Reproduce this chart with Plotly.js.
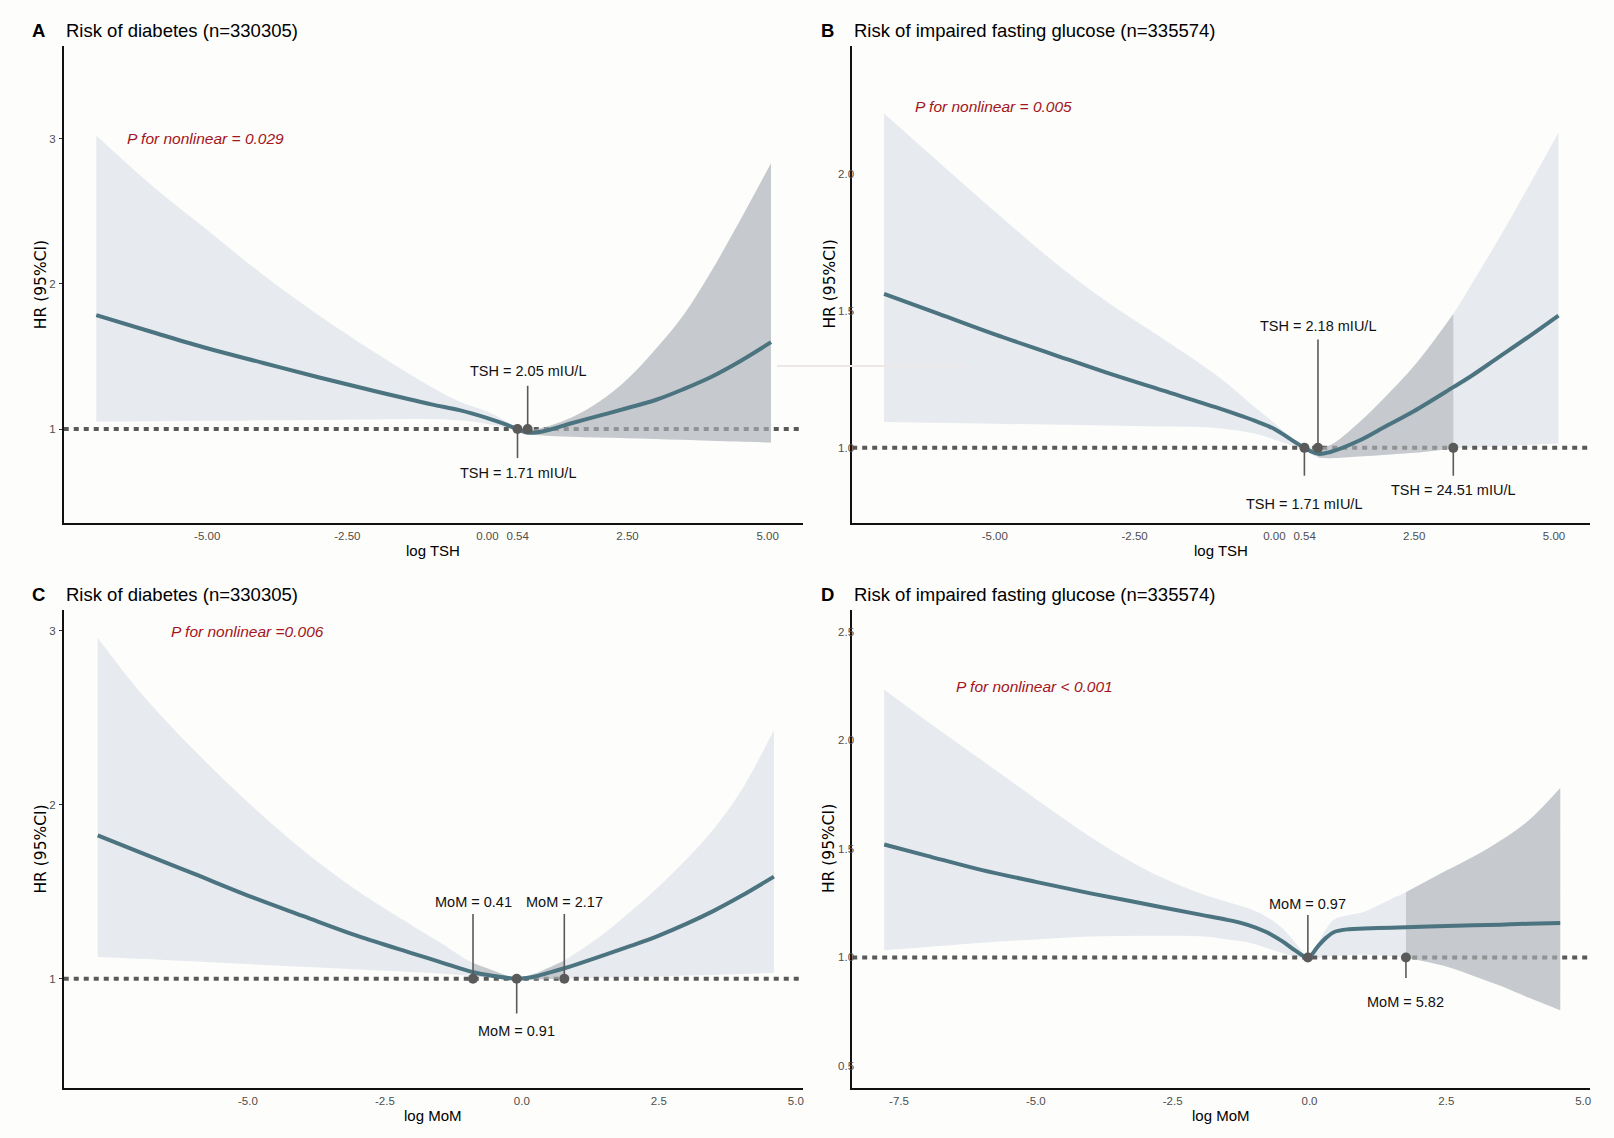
<!DOCTYPE html>
<html>
<head>
<meta charset="utf-8">
<script src="https://cdn.plot.ly/plotly-3.0.1.min.js"></script>
<style>html,body{margin:0;padding:0;background:#fdfdfb;}#chart{width:1614px;height:1138px;}</style>
</head>
<body>
<div id="chart"></div>
<script>
// ---------------- DATA ----------------
// Panel A: diabetes vs log TSH
const xA  = [-6.98, -6, -5, -4, -3, -2, -1, -0.5, 0, 0.3, 0.536, 0.718, 1.0, 1.5, 2.0, 2.5, 3.0, 3.5, 4.0, 4.5, 5.06];
const hrA = [1.784, 1.67, 1.556, 1.455, 1.355, 1.26, 1.17, 1.13, 1.075, 1.035, 1.0, 0.975, 0.985, 1.04, 1.092, 1.145, 1.20, 1.275, 1.36, 1.465, 1.598];
const loA = [1.052, 1.054, 1.057, 1.06, 1.063, 1.066, 1.068, 1.06, 1.035, 1.012, 0.99, 0.966, 0.955, 0.947, 0.942, 0.937, 0.932, 0.926, 0.92, 0.914, 0.907];
const upA = [3.02, 2.68, 2.37, 2.06, 1.78, 1.525, 1.29, 1.19, 1.12, 1.06, 1.01, 0.99, 1.01, 1.08, 1.19, 1.345, 1.55, 1.785, 2.09, 2.43, 2.83];

// Panel B: impaired fasting glucose vs log TSH
const xB  = [-6.98, -6, -5, -4, -3, -2, -1, -0.3, 0, 0.3, 0.536, 0.779, 1.0, 1.5, 2.0, 2.5, 3.199, 3.5, 4.0, 4.5, 5.08];
const hrB = [1.563, 1.49, 1.415, 1.345, 1.275, 1.21, 1.145, 1.095, 1.069, 1.03, 1.0, 0.978, 0.985, 1.025, 1.08, 1.135, 1.222, 1.26, 1.33, 1.40, 1.484];
const loB = [1.095, 1.092, 1.088, 1.085, 1.082, 1.078, 1.072, 1.05, 1.03, 1.01, 0.99, 0.965, 0.962, 0.968, 0.975, 0.982, 0.998, 1.0, 1.005, 1.01, 1.016];
const upB = [2.223, 2.045, 1.865, 1.69, 1.535, 1.40, 1.26, 1.14, 1.09, 1.04, 1.012, 1.0, 1.01, 1.09, 1.19, 1.30, 1.49, 1.59, 1.76, 1.94, 2.153];

// Panel C: diabetes vs log MoM
const xC  = [-7.74, -7, -6, -5, -4, -3, -2, -1.5, -0.89, -0.5, -0.094, 0.2, 0.5, 0.775, 1.0, 1.5, 2.0, 2.5, 3.0, 3.5, 4.0, 4.6];
const hrC = [1.824, 1.73, 1.605, 1.478, 1.361, 1.246, 1.146, 1.097, 1.037, 1.015, 1.0, 1.01, 1.035, 1.06, 1.082, 1.135, 1.19, 1.248, 1.315, 1.39, 1.475, 1.587];
const loC = [1.125, 1.115, 1.10, 1.084, 1.068, 1.053, 1.039, 1.03, 1.015, 1.006, 0.995, 0.995, 0.998, 1.0, 1.002, 1.005, 1.01, 1.013, 1.018, 1.022, 1.027, 1.034];
const upC = [2.96, 2.66, 2.32, 2.015, 1.74, 1.505, 1.305, 1.21, 1.09, 1.045, 1.005, 1.025, 1.065, 1.105, 1.15, 1.26, 1.39, 1.53, 1.685, 1.86, 2.08, 2.43];

// Panel D: impaired fasting glucose vs log MoM
const xD  = [-7.77, -7, -6, -5, -4, -3, -2, -1.5, -1.13, -0.8, -0.5, -0.25, -0.03, 0.15, 0.3, 0.45, 0.72, 1.0, 1.5, 1.761, 2.5, 3.0, 3.5, 4.0, 4.58];
const hrD = [1.52, 1.469, 1.403, 1.348, 1.295, 1.246, 1.197, 1.173, 1.15, 1.118, 1.075, 1.03, 1.0, 1.05, 1.09, 1.117, 1.13, 1.133, 1.137, 1.139, 1.145, 1.148, 1.151, 1.155, 1.158];
const loD = [1.033, 1.048, 1.068, 1.083, 1.096, 1.10, 1.097, 1.083, 1.07, 1.045, 1.02, 1.003, 0.995, 0.997, 1.002, 1.006, 1.01, 1.012, 1.005, 0.998, 0.958, 0.915, 0.868, 0.815, 0.757];
const upD = [2.234, 2.09, 1.91, 1.73, 1.555, 1.405, 1.295, 1.255, 1.227, 1.19, 1.135, 1.064, 1.005, 1.065, 1.13, 1.175, 1.195, 1.21, 1.27, 1.30, 1.40, 1.465, 1.54, 1.63, 1.78];

// Cut-off values (original scale) and their labels
const cutValsA = [1.71, 2.05];  const cutLabelsA = ["TSH = 1.71 mIU/L", "TSH = 2.05 mIU/L"];
const cutValsB = [1.71, 2.18, 24.51]; const cutLabelsB = ["TSH = 1.71 mIU/L", "TSH = 2.18 mIU/L", "TSH = 24.51 mIU/L"];
const cutValsC = [0.41, 0.91, 2.17]; const cutLabelsC = ["MoM = 0.41", "MoM = 0.91", "MoM = 2.17"];
const cutValsD = [0.97, 5.82]; const cutLabelsD = ["MoM = 0.97", "MoM = 5.82"];

const titles = ["Risk of diabetes (n=330305)", "Risk of impaired fasting glucose (n=335574)",
                "Risk of diabetes (n=330305)", "Risk of impaired fasting glucose (n=335574)"];
const letters = ["A", "B", "C", "D"];
const pTexts = ["P for nonlinear = 0.029", "P for nonlinear = 0.005", "P for nonlinear =0.006", "P for nonlinear < 0.001"];
const xTitles = ["log TSH", "log TSH", "log MoM", "log MoM"];
const yTitle = "HR (95%CI)";
const xTickValsTop = [-5, -2.5, 0, 0.54, 2.5, 5];
const xTickTextTop = ["-5.00", "-2.50", "0.00", "0.54", "2.50", "5.00"];
const xTickValsC = [-5, -2.5, 0, 2.5, 5];
const xTickTextC = ["-5.0", "-2.5", "0.0", "2.5", "5.0"];
const xTickValsD = [-7.5, -5, -2.5, 0, 2.5, 5];
const xTickTextD = ["-7.5", "-5.0", "-2.5", "0.0", "2.5", "5.0"];
const yTickValsA = [1, 2, 3]; const yTickTextA = ["1", "2", "3"];
const yTickValsB = [1.0, 1.5, 2.0]; const yTickTextB = ["1.0", "1.5", "2.0"];
const yTickValsC = [1, 2, 3]; const yTickTextC = ["1", "2", "3"];
const yTickValsD = [0.5, 1.0, 1.5, 2.0, 2.5]; const yTickTextD = ["0.5", "1.0", "1.5", "2.0", "2.5"];

// ---------------- STYLE / LAYOUT ----------------
const BG = "#fdfdfb";
const LIGHT = "#e7eaef";
const DARK = "rgba(178,180,184,0.62)";
const CURVE = "#4b7480";
const REF = "#595959";
const PT = "#5a5a5a";
const FONT = "Liberation Sans, Arial, sans-serif";
const SMOOTH = 1.0;

const panels = [
  {x:xA, hr:hrA, lo:loA, up:upA, cuts:cutValsA, labels:cutLabelsA,
   labelY:[0.695, 1.397], lineEnd:[0.80, 1.298], dark:[1, null],
   xr:[-7.56, 5.63], yr:[0.353, 3.637], pPos:[-6.47, 3.0],
   dom:{x:[0.0395, 0.4975], y:[0.5404, 0.9596]}, tv:xTickValsTop, tt:xTickTextTop, ytv:yTickValsA, ytt:yTickTextA, inside:false},
  {x:xB, hr:hrB, lo:loB, up:upB, cuts:cutValsB, labels:cutLabelsB,
   labelY:[0.796, 1.445, 0.845], lineEnd:[0.898, 1.396, 0.898], dark:[1, 2],
   xr:[-7.55, 5.64], yr:[0.725, 2.47], pPos:[-6.46, 2.249],
   dom:{x:[0.528, 0.985], y:[0.5404, 0.9596]}, tv:xTickValsTop, tt:xTickTextTop, ytv:yTickValsB, ytt:yTickTextB, inside:true},
  {x:xC, hr:hrC, lo:loC, up:upC, cuts:cutValsC, labels:cutLabelsC,
   labelY:[1.442, 0.699, 1.442], lineEnd:[1.372, 0.80, 1.372], dark:[0, 2],
   xr:[-8.36, 5.13], yr:[0.372, 3.12], pPos:[-6.44, 2.994],
   dom:{x:[0.0395, 0.4975], y:[0.044, 0.464]}, tv:xTickValsC, tt:xTickTextC, ytv:yTickValsC, ytt:yTickTextC, inside:false},
  {x:xD, hr:hrD, lo:loD, up:upD, cuts:cutValsD, labels:cutLabelsD,
   labelY:[1.245, 0.795], lineEnd:[1.195, 0.905], dark:[1, null],
   xr:[-8.355, 5.12], yr:[0.399, 2.6], pPos:[-6.5, 2.247],
   dom:{x:[0.528, 0.985], y:[0.044, 0.464]}, tv:xTickValsD, tt:xTickTextD, ytv:yTickValsD, ytt:yTickTextD, inside:true}
];

const data = [];
const annotations = [];
const layout = {
  width: 1614, height: 1138,
  margin: {l:0, r:0, t:0, b:0},
  paper_bgcolor: BG, plot_bgcolor: BG,
  showlegend: false,
  font: {family: FONT, color: "#000"},
  annotations: annotations,
  shapes: [
    {type:"line", xref:"paper", yref:"paper", x0:777/1614, x1:968/1614, y0:1-366/1138, y1:1-366/1138,
     line:{color:"#ede8e7", width:2}, layer:"above"}
  ]
};

panels.forEach((p, i) => {
  const n = i === 0 ? "" : String(i + 1);
  const xa = "x" + n, ya = "y" + n;
  const logCuts = p.cuts.map(v => Math.log(v));
  const noLine = {width:0, shape:"spline", smoothing:SMOOTH};

  // light CI band
  data.push({x:p.x, y:p.lo, xaxis:xa, yaxis:ya, type:"scatter", mode:"lines", line:noLine, hoverinfo:"skip"});
  data.push({x:p.x, y:p.up, xaxis:xa, yaxis:ya, type:"scatter", mode:"lines", fill:"tonexty",
             fillcolor:LIGHT, line:noLine, hoverinfo:"skip"});
  // reference line HR = 1
  data.push({x:[p.xr[0], p.xr[1]], y:[1, 1], xaxis:xa, yaxis:ya, type:"scatter", mode:"lines",
             line:{color:REF, width:4, dash:"5px,5px"}, hoverinfo:"skip"});
  // darker non-significant region
  const x0 = logCuts[p.dark[0]] - 0.01;
  const x1 = p.dark[1] === null ? Infinity : logCuts[p.dark[1]] + 0.01;
  const idx = p.x.map((v, k) => k).filter(k => p.x[k] >= x0 && p.x[k] <= x1);
  data.push({x:idx.map(k => p.x[k]), y:idx.map(k => p.lo[k]), xaxis:xa, yaxis:ya, type:"scatter", mode:"lines",
             line:noLine, hoverinfo:"skip"});
  data.push({x:idx.map(k => p.x[k]), y:idx.map(k => p.up[k]), xaxis:xa, yaxis:ya, type:"scatter", mode:"lines",
             fill:"tonexty", fillcolor:DARK, line:noLine, hoverinfo:"skip"});
  // HR curve
  data.push({x:p.x, y:p.hr, xaxis:xa, yaxis:ya, type:"scatter", mode:"lines",
             line:{color:CURVE, width:4, shape:"spline", smoothing:SMOOTH}, hoverinfo:"skip"});
  // cut-off segments
  const sx = [], sy = [];
  logCuts.forEach((lx, k) => { sx.push(lx, lx, null); sy.push(1, p.lineEnd[k], null); });
  data.push({x:sx, y:sy, xaxis:xa, yaxis:ya, type:"scatter", mode:"lines",
             line:{color:PT, width:1.6}, hoverinfo:"skip"});
  data.push({x:logCuts, y:logCuts.map(() => 1), xaxis:xa, yaxis:ya, type:"scatter", mode:"markers",
             marker:{color:PT, size:10}, hoverinfo:"skip"});
  // cut-off labels
  logCuts.forEach((lx, k) => {
    annotations.push({x:lx, y:p.labelY[k], xref:xa, yref:ya, text:p.labels[k], showarrow:false,
                      font:{size:14.5, color:"#111", family:FONT}, xanchor:"center", yanchor:"middle"});
  });
  // P text
  annotations.push({x:p.pPos[0], y:p.pPos[1], xref:xa, yref:ya, text:"<i>" + pTexts[i] + "</i>", showarrow:false,
                    font:{size:15.5, color:"#a3151b", family:FONT}, xanchor:"left", yanchor:"middle"});

  // axes
  layout["xaxis" + n] = {domain:p.dom.x, anchor:ya, range:p.xr, showline:true, linecolor:"#111", linewidth:1.8,
    showgrid:false, zeroline:false, ticks:"", tickvals:p.tv, ticktext:p.tt,
    tickfont:{size:11.5, color:"#4d4d4d", family:FONT}, ticklabelstandoff:1, fixedrange:true};
  layout["yaxis" + n] = {domain:p.dom.y, anchor:xa, range:p.yr, showline:true, linecolor:"#111", linewidth:1.8,
    showgrid:false, zeroline:false, ticks:p.inside ? "" : "outside", ticklen:3, tickwidth:1, tickcolor:"#333",
    tickvals:p.ytv, ticktext:p.ytt, tickfont:{size:11.5, color:"#4d4d4d", family:FONT},
    ticklabelstandoff:p.inside ? -6 : 1, fixedrange:true};

  // titles
  const left = p.dom.x[0], right = p.dom.x[1], top = p.dom.y[1], bot = p.dom.y[0];
  annotations.push({xref:"paper", yref:"paper", x:left - 0.0155, y:top + 0.0132, text:"<b>" + letters[i] + "</b>",
                    showarrow:false, font:{size:18.5, color:"#000", family:FONT}, xanchor:"center", yanchor:"middle"});
  annotations.push({xref:"paper", yref:"paper", x:left, y:top + 0.0132, text:titles[i],
                    showarrow:false, font:{size:18.5, color:"#000", family:FONT}, xanchor:"left", yanchor:"middle"});
  annotations.push({xref:"paper", yref:"paper", x:(left + right) / 2, y:bot - 0.0245, text:xTitles[i],
                    showarrow:false, font:{size:15, color:"#000", family:FONT}, xanchor:"center", yanchor:"middle"});
  annotations.push({xref:"paper", yref:"paper", x:left - 0.0143, y:(top + bot) / 2, text:yTitle, textangle:-90,
                    showarrow:false, font:{size:15.5, color:"#000", family:"DejaVu Sans, sans-serif"}, xanchor:"center", yanchor:"middle"});
});

Plotly.newPlot("chart", data, layout, {displayModeBar:false, staticPlot:true});
</script>
</body>
</html>
